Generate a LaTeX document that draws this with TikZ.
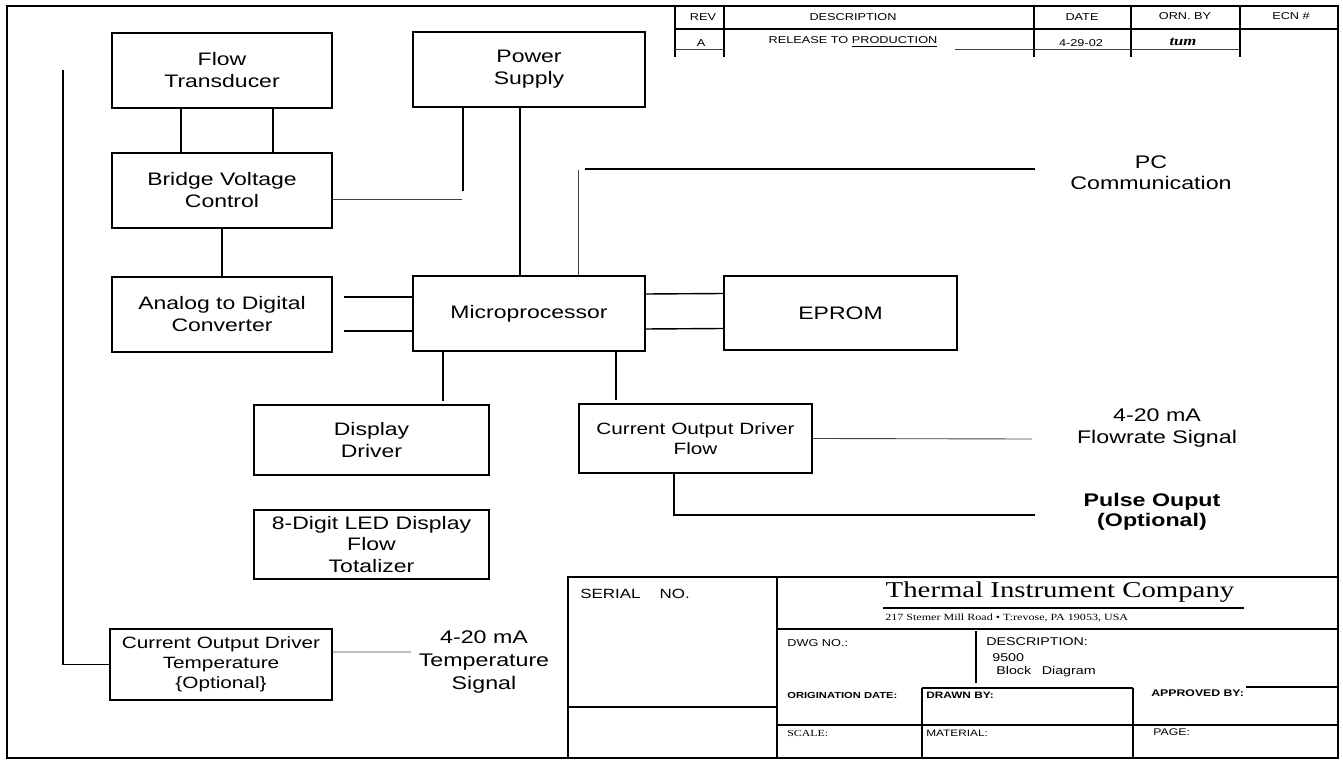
\documentclass[tikz,border=0pt]{standalone}
\usepackage{fontspec}
\setmainfont[FakeStretch=1.27]{Liberation Sans}
\newfontfamily\romanfont[FakeStretch=1.27]{Liberation Serif}
\usetikzlibrary{
    calc,
    positioning,
}

\begin{document}
\begin{tikzpicture}[
    x=0.02cm, y=-0.02cm,
    block/.style={draw, line width=0.8pt, inner sep=0pt, align=center,
    font=\fontsize{10.3}{12.5}\selectfont, minimum width=4.4cm,
    minimum height=1.5cm},
    smallblock/.style={block, font=\fontsize{9.3}{11.3}\selectfont},
    wire/.style={line width=0.8pt},
    thinwire/.style={line width=0.5pt, color=black!75},
    frame/.style={line width=0.8pt},
    signal/.style={align=center, inner sep=0pt,
    font=\fontsize{10.4}{12.5}\selectfont},
    tabtext/.style={inner sep=0pt, font=\fontsize{5.7}{6.5}\selectfont},
    formtext/.style={inner sep=0pt, anchor=west,
    font=\fontsize{5.5}{6.5}\selectfont},
]

\useasboundingbox (0,0) rectangle (1343,760);
\draw[frame] (7,6) rectangle (1338,758);

% LEFT COLUMN
\node[block] at (222,70.5) (ft) {Flow\\Transducer};
\node[block] at (222,190.5) (bvc) {Bridge Voltage\\Control};
\node[block] at (222,314.5) (adc) {Analog to Digital\\Converter};

% CENTRE COLUMN
\node[block, minimum width=4.64cm] at (529,69.5) (ps) {Power\\Supply};
\node[block, minimum width=4.64cm] at (529,313.5) (mp) {Microprocessor};
\node[block, minimum width=4.66cm, minimum height=1.48cm] at (840.5,313)
    (eprom) {EPROM};

% DISPLAY
\node[block, minimum width=4.7cm, minimum height=1.4cm] at (371.5,440)
    (dd) {Display\\Driver};
\node[block, minimum width=4.7cm, minimum height=1.38cm] at (371.5,544.5)
    (led) {8-Digit LED Display\\Flow\\Totalizer};

% CURRENT OUTPUT DRIVERS
\node[smallblock, minimum width=4.66cm, minimum height=1.38cm]
    at (695.5,438.5) (codf) {Current Output Driver\\Flow};
\node[smallblock, minimum width=4.44cm, minimum height=1.42cm]
    at (221,664.5) (codt) {Current Output Driver\\Temperature\\\{Optional\}};

% SIGNAL LABELS
\node[signal, font=\fontsize{10.4}{12}\selectfont] at (1151,172.5) (pc)
    {PC\\Communication};
\node[signal] at (1157,428) (flowsig) {4-20 mA\\Flowrate Signal};
\node[signal, font=\fontsize{10.4}{11.3}\selectfont\bfseries] at (1152,512)
    (pulse) {Pulse Ouput\\(Optional)};
\node[signal, font=\fontsize{10.4}{13}\selectfont] at (484,662) (tempsig)
    {4-20 mA\\Temperature\\Signal};

% CONNECTIONS
\draw[wire] ([xshift=-0.82cm]ft.south) -- ([xshift=-0.82cm]bvc.north);
\draw[wire] ([xshift=1.02cm]ft.south) -- ([xshift=1.02cm]bvc.north);
\draw[wire] (bvc.south) -- (adc.north);

\coordinate (pstap) at (463,191);
\coordinate (bvctap) at (462,199);
\draw[wire] (ps.south -| pstap) -- (pstap);
\draw[thinwire] (bvc.east |- bvctap) -- (bvctap);
\draw[wire] ([xshift=-0.18cm]ps.south) -- ([xshift=-0.18cm]mp.north);

\coordinate (adca) at (344,297);
\coordinate (adcb) at (344,331);
\draw[wire] (adca) -- (adca -| mp.west);
\draw[wire] (adcb) -- (adcb -| mp.west);

\draw[wire] ([yshift=0.39cm]mp.east) -- ([yshift=0.39cm]eprom.west);
\draw[wire] ([yshift=-0.31cm]mp.east) -- ([yshift=-0.31cm]eprom.west);

% PC LINK
\coordinate (pcup) at (578,170);
\coordinate (pca) at (585,169);
\coordinate (pcb) at (1035,169);
\draw[thinwire] (mp.north -| pcup) -- (pcup);
\draw[wire, line width=0.7pt] (pca) -- (pcb);

% OUTPUTS
\coordinate (ddtap) at (443,401);
\coordinate (cftap) at (616,400);
\draw[wire] (mp.south -| ddtap) -- (ddtap);
\draw[wire] (mp.south -| cftap) -- (cftap);

\coordinate (flowend) at (1032,439);
\draw[thinwire] (codf.east) -- (flowend);
\coordinate (pulseend) at (1035,515);
\draw[wire] ([xshift=-0.43cm]codf.south) |- (pulseend);

\coordinate (temptop) at (63,70);
\draw[wire] (temptop) |- (codt.west);
\coordinate (tempend) at (411,652);
\draw[thinwire] ([yshift=0.25cm]codt.east) -- (tempend);

% REVISION BLOCK
\foreach \xx in {675,724,1034,1131,1240} {
    \draw[frame] (\xx,6) -- (\xx,57);
}
\draw[frame] (675,29) -- (1338,29);
\draw[thinwire] (675,49) -- (724,49);
\draw[thinwire] (955,49) -- (1240,49);

\node[tabtext] at (703,17) (revh) {REV};
\node[tabtext] at (853,17) (desch) {DESCRIPTION};
\node[tabtext] at (1082,17) (dateh) {DATE};
\node[tabtext] at (1185,16) (ornh) {ORN. BY};
\node[tabtext] at (1291,16) (ecnh) {ECN \#};
\node[tabtext] at (701,43) (reva) {A};
\node[tabtext] at (853,42) (desca) {RELEASE TO \underline{PRODUCTION}};
\node[tabtext] at (1081,43) (datea) {4-29-02};
\node[tabtext, font=\romanfont\fontsize{7.5}{8}\selectfont\bfseries\itshape]
    at (1183,42) (orna) {tum};

% TITLE BLOCK
\draw[frame] (568,577) rectangle (1338,758);
\draw[frame] (777,577) -- (777,758);
\draw[frame] (568,707) -- (777,707);
\draw[frame] (777,629) -- (1338,629);
\draw[frame] (976,631) -- (976,683);
\draw[frame] (922,688) -- (1133,688);
\draw[frame] (922,688) -- (922,758);
\draw[frame] (1133,688) -- (1133,758);
\draw[frame] (1246,687) -- (1338,687);
\draw[frame] (777,725) -- (1338,725);
\draw[line width=1.2pt] (883,608) -- (1244,608);

\node[formtext, font=\fontsize{7.6}{8}\selectfont] at (580,594) (serial)
    {SERIAL\hspace{10.8pt}NO.};
\node[inner sep=0pt, font=\romanfont\fontsize{12.9}{14}\selectfont]
    at (1060,592) (company) {Thermal Instrument Company};
\node[formtext, font=\romanfont\fontsize{5.4}{6}\selectfont] at (885,618)
    (address) {217 Stemer Mill Road • T:revose, PA 19053, USA};
\node[formtext, font=\fontsize{5.7}{6.5}\selectfont] at (787,643) (dwg)
    {DWG NO.:};
\node[formtext, font=\fontsize{6.4}{7}\selectfont] at (986,642) (descr)
    {DESCRIPTION:};
\node[formtext, font=\fontsize{6.4}{7}\selectfont] at (992,658) (model)
    {9500};
\node[formtext, font=\fontsize{6.4}{7}\selectfont] at (996,672) (dtitle)
    {Block\hspace{6pt}Diagram};
\node[formtext, font=\fontsize{5}{6}\selectfont\bfseries] at (787,695)
    (origin) {ORIGINATION DATE:};
\node[formtext, font=\fontsize{5.3}{6}\selectfont\bfseries] at (926,695)
    (drawn) {DRAWN BY:};
\node[formtext, font=\fontsize{5.5}{6}\selectfont\bfseries] at (1151,693)
    (approved) {APPROVED BY:};
\node[formtext, font=\romanfont\fontsize{5.3}{6}\selectfont] at (787,733)
    (scale) {SCALE:};
\node[formtext, font=\fontsize{5.3}{6}\selectfont] at (926,733)
    (material) {MATERIAL:};
\node[formtext] at (1153,732) (page) {PAGE:};

\end{tikzpicture}
\end{document}
